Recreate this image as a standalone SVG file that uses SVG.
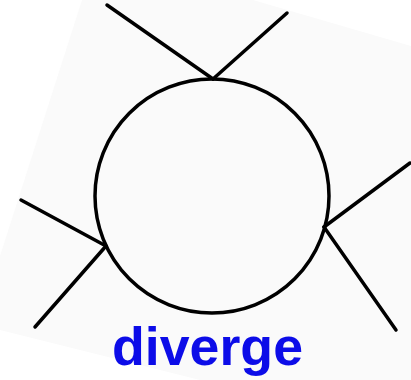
<svg xmlns="http://www.w3.org/2000/svg" width="411" height="380" viewBox="0 0 411 380">
<style>
.ln{stroke:#000;stroke-width:3.5;fill:none;stroke-linecap:round}
.lbl{font-family:"Liberation Sans",Arial,sans-serif;font-weight:bold;font-size:54px;fill:#0c0ce8}
</style>
<rect width="411" height="380" fill="#ffffff"/>
<polygon points="82,0 253,0 411,46 411,380 200,380 0,330 0,256" fill="#fafafa"/>
<g id="connectors">
<line class="ln" x1="107" y1="5" x2="213" y2="79"/>
<line class="ln" x1="287" y1="13" x2="213" y2="79"/>
<line class="ln" x1="21" y1="200" x2="106" y2="246"/>
<line class="ln" x1="35" y1="327" x2="106" y2="246"/>
<line class="ln" x1="410" y1="163" x2="324" y2="227"/>
<line class="ln" x1="396" y1="330" x2="324" y2="227"/>
</g>
<g id="node">
<circle class="ln" cx="212" cy="196" r="117" fill="#fdfdfd"/>
</g>
<g id="label">
<text class="lbl" x="112" y="365" textLength="191" lengthAdjust="spacingAndGlyphs">diverge</text>
</g>
</svg>
